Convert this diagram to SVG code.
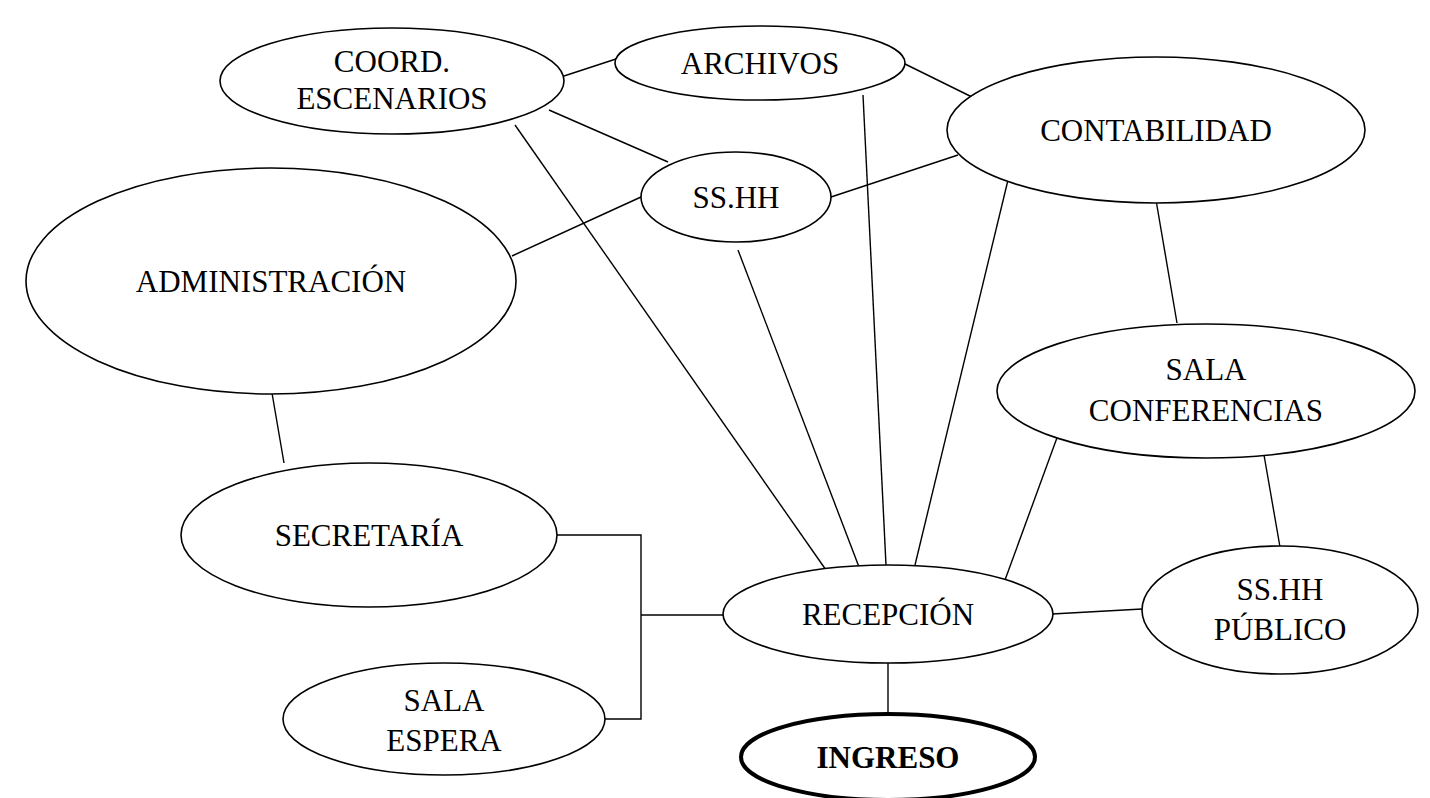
<svg xmlns="http://www.w3.org/2000/svg" width="1430" height="798" viewBox="0 0 1430 798">
<style>
.n{fill:#fff;stroke:#000;stroke-width:1.6}
.b{fill:#fff;stroke:#000;stroke-width:4}
.t{font-family:"Liberation Serif","Times New Roman",serif;font-size:31px;fill:#000;text-anchor:middle}
.tb{font-weight:bold}
.c{fill:none;stroke:#000;stroke-width:1.4}
</style>
<rect width="1430" height="798" fill="#fff"/>
<g id="connectors">
<line class="c" x1="564" y1="76" x2="619" y2="58"/>
<line class="c" x1="903" y1="63" x2="974" y2="98"/>
<line class="c" x1="549" y1="110" x2="668" y2="162"/>
<line class="c" x1="515" y1="125" x2="826" y2="570"/>
<line class="c" x1="863" y1="95" x2="886" y2="565"/>
<line class="c" x1="641" y1="197" x2="512" y2="256"/>
<line class="c" x1="831" y1="197" x2="958" y2="155"/>
<line class="c" x1="738" y1="250" x2="859" y2="567"/>
<line class="c" x1="1008" y1="180" x2="915" y2="565"/>
<line class="c" x1="1156" y1="200" x2="1177" y2="323"/>
<line class="c" x1="272" y1="393" x2="284" y2="463"/>
<line class="c" x1="1058" y1="435" x2="1005" y2="580"/>
<line class="c" x1="1264" y1="455" x2="1280" y2="547"/>
<line class="c" x1="1052" y1="614" x2="1142" y2="609"/>
<line class="c" x1="888" y1="663" x2="888" y2="713"/>
<polyline class="c" points="557,535 641,535 641,719 604,719"/>
<line class="c" x1="641" y1="615" x2="723" y2="615"/>
</g>
<g id="coord"><ellipse class="n" cx="392" cy="81" rx="172" ry="53"/><text class="t" x="392" y="72">COORD.</text><text class="t" x="392" y="109">ESCENARIOS</text></g>
<g id="archivos"><ellipse class="n" cx="760" cy="63" rx="145" ry="37"/><text class="t" x="760" y="74">ARCHIVOS</text></g>
<g id="contabilidad"><ellipse class="n" cx="1156" cy="130" rx="209" ry="73"/><text class="t" x="1156" y="141">CONTABILIDAD</text></g>
<g id="sshh"><ellipse class="n" cx="736" cy="197" rx="95" ry="45"/><text class="t" x="736" y="208">SS.HH</text></g>
<g id="administracion"><ellipse class="n" cx="271" cy="281" rx="245" ry="113"/><text class="t" x="271" y="292">ADMINISTRACIÓN</text></g>
<g id="salaconf"><ellipse class="n" cx="1206" cy="391" rx="209" ry="67"/><text class="t" x="1206" y="380">SALA</text><text class="t" x="1206" y="421">CONFERENCIAS</text></g>
<g id="secretaria"><ellipse class="n" cx="369" cy="535" rx="188" ry="72"/><text class="t" x="369" y="546">SECRETARÍA</text></g>
<g id="recepcion"><ellipse class="n" cx="888" cy="614" rx="165" ry="49"/><text class="t" x="888" y="625">RECEPCIÓN</text></g>
<g id="sshhpublico"><ellipse class="n" cx="1280" cy="610" rx="138" ry="64"/><text class="t" x="1280" y="600">SS.HH</text><text class="t" x="1280" y="640">PÚBLICO</text></g>
<g id="salaespera"><ellipse class="n" cx="444" cy="719" rx="161" ry="56"/><text class="t" x="444" y="711">SALA</text><text class="t" x="444" y="751">ESPERA</text></g>
<g id="ingreso"><ellipse class="b" cx="888" cy="757" rx="147" ry="43"/><text class="t tb" x="888" y="768">INGRESO</text></g>
</svg>
